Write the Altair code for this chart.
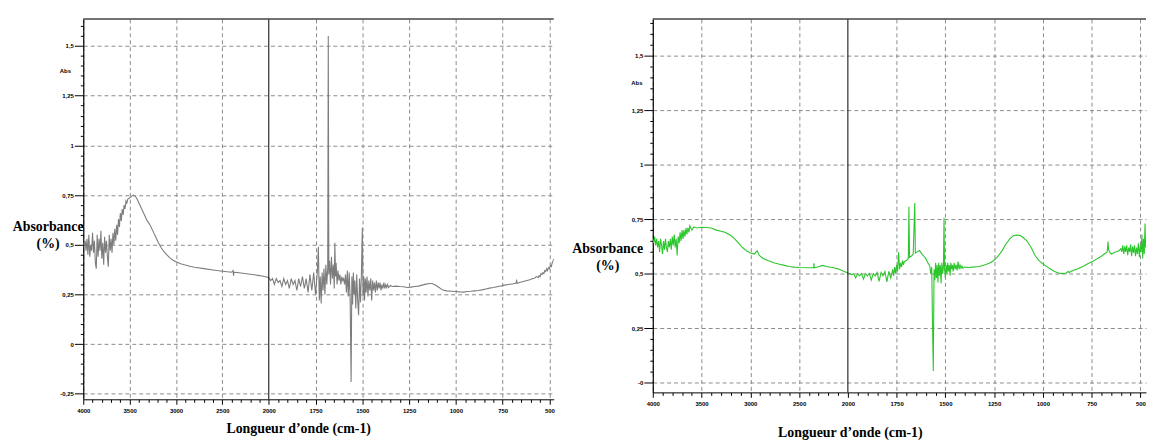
import altair as alt
import pandas as pd

# ---------------- data ----------------
L_WN = [4000, 3990, 3980, 3970, 3960, 3950, 3940, 3930, 3920, 3910,
        3900, 3890, 3880, 3870, 3860, 3850, 3840, 3830, 3820, 3810,
        3800, 3790, 3780, 3770, 3760, 3750, 3740, 3730, 3720, 3710,
        3700, 3690, 3680, 3670, 3660, 3650, 3640, 3630, 3620, 3610,
        3600, 3590, 3580, 3570, 3560, 3550, 3540, 3530, 3520, 3500,
        3480, 3460, 3440, 3420, 3400, 3370, 3340, 3310, 3280, 3250,
        3220, 3190, 3160, 3130, 3100, 3070, 3040, 3000, 2950, 2900,
        2850, 2800, 2700, 2600, 2500, 2400, 2385, 2380, 2375, 2300,
        2200, 2100, 2000,
        1990, 1980, 1970, 1960, 1950, 1940, 1930, 1920, 1910, 1900,
        1890, 1880, 1870, 1860, 1850, 1840, 1830, 1820, 1810, 1800,
        1790, 1780, 1770, 1760, 1750, 1740, 1735, 1730, 1725, 1720,
        1715, 1710, 1705, 1700, 1695, 1690, 1685, 1682, 1679, 1675,
        1670, 1665, 1660, 1655, 1650, 1647, 1643, 1640, 1635, 1630,
        1625, 1620, 1615, 1610, 1605, 1600, 1595, 1590, 1585, 1580,
        1575, 1570, 1565, 1560, 1556, 1552, 1548, 1544, 1540, 1535,
        1530, 1525, 1520, 1515, 1510, 1505, 1500, 1496, 1492, 1488,
        1484, 1480, 1475, 1470, 1465, 1460, 1455, 1450, 1445, 1440,
        1435, 1430, 1425, 1420, 1415, 1410, 1405, 1400, 1395, 1390,
        1385, 1380, 1375, 1370, 1365, 1360, 1350, 1340, 1320, 1300,
        1280, 1260, 1240, 1220, 1200, 1180, 1160, 1140, 1127, 1110,
        1090, 1070, 1050, 1020, 1000, 980, 960, 940, 920, 900,
        880, 860, 840, 820, 800, 780, 760, 740, 720, 700,
        680, 675, 672, 660, 640, 620, 600, 590, 580, 570,
        560, 555, 550, 545, 540, 535, 530, 525, 520, 515,
        510, 505, 500, 495, 490, 485, 480, 477]
L_ABS = [0.51, 0.50, 0.52, 0.47, 0.53, 0.45, 0.55, 0.44, 0.50, 0.47,
         0.56, 0.46, 0.52, 0.41, 0.38, 0.55, 0.44, 0.53, 0.47, 0.57,
         0.43, 0.51, 0.40, 0.54, 0.46, 0.52, 0.44, 0.39, 0.55, 0.47,
         0.53, 0.46, 0.56, 0.50, 0.58, 0.52, 0.60, 0.55, 0.63, 0.59,
         0.66, 0.62, 0.68, 0.65, 0.70, 0.68, 0.72, 0.71, 0.73, 0.735,
         0.745, 0.75, 0.745, 0.73, 0.71, 0.68, 0.65, 0.62, 0.60, 0.57,
         0.54, 0.51, 0.485, 0.465, 0.45, 0.435, 0.425, 0.415, 0.405, 0.398,
         0.392, 0.387, 0.38, 0.373, 0.367, 0.362, 0.37, 0.345, 0.362, 0.358,
         0.352, 0.345, 0.335,
         0.32, 0.33, 0.30, 0.33, 0.31, 0.32, 0.29, 0.33, 0.30, 0.32,
         0.28, 0.33, 0.30, 0.32, 0.27, 0.33, 0.29, 0.34, 0.28, 0.33,
         0.26, 0.35, 0.27, 0.36, 0.25, 0.37, 0.49, 0.22, 0.34, 0.205,
         0.36, 0.27, 0.38, 0.25, 0.40, 0.30, 0.38, 1.55, 0.35, 0.42,
         0.30, 0.44, 0.33, 0.40, 0.28, 0.51, 0.34, 0.41, 0.30, 0.37,
         0.32, 0.35, 0.30, 0.34, 0.32, 0.33, 0.30, 0.35, 0.26, 0.37,
         0.24, 0.36, 0.22, -0.19, 0.34, 0.20, 0.36, 0.25, 0.32, 0.18,
         0.35, 0.22, 0.146, 0.33, 0.21, 0.35, 0.586, 0.24, 0.34, 0.22,
         0.33, 0.26, 0.34, 0.24, 0.32, 0.27, 0.33, 0.22, 0.32, 0.27,
         0.31, 0.26, 0.32, 0.27, 0.31, 0.28, 0.31, 0.27, 0.30, 0.28,
         0.31, 0.28, 0.30, 0.285, 0.30, 0.285, 0.295, 0.29, 0.292, 0.29,
         0.289, 0.285, 0.287, 0.29, 0.292, 0.297, 0.302, 0.305, 0.305, 0.298,
         0.285, 0.272, 0.268, 0.266, 0.265, 0.263, 0.262, 0.265, 0.266, 0.268,
         0.27, 0.273, 0.278, 0.282, 0.285, 0.289, 0.293, 0.297, 0.30, 0.303,
         0.306, 0.32, 0.305, 0.31, 0.315, 0.32, 0.325, 0.33, 0.332, 0.34,
         0.335, 0.345, 0.34, 0.355, 0.35, 0.36, 0.355, 0.37, 0.365, 0.38,
         0.37, 0.385, 0.38, 0.395, 0.39, 0.41, 0.42, 0.43]

R_WN = [4000, 3990, 3980, 3970, 3960, 3950, 3940, 3930, 3920, 3910,
        3900, 3890, 3880, 3870, 3860, 3850, 3840, 3830, 3820, 3810,
        3800, 3790, 3780, 3770, 3760, 3750, 3740, 3730, 3720, 3710,
        3700, 3690, 3680, 3670, 3660, 3650, 3640, 3630, 3620, 3600,
        3580, 3550, 3500, 3450, 3400, 3350, 3300, 3260, 3200, 3160,
        3120, 3080, 3040, 3000, 2960, 2930, 2910, 2870, 2820, 2760,
        2700, 2650, 2600, 2550, 2500, 2400, 2350, 2348, 2345, 2300,
        2260, 2220, 2160, 2100, 2050, 2000,
        1990, 1980, 1970, 1960, 1950, 1940, 1930, 1920, 1910, 1900,
        1890, 1880, 1870, 1860, 1850, 1840, 1830, 1820, 1810, 1800,
        1790, 1780, 1770, 1765, 1760, 1755, 1750, 1745, 1740, 1735,
        1730, 1725, 1720, 1715, 1711, 1700, 1690, 1687, 1684, 1675,
        1665, 1657, 1654, 1645, 1633, 1620, 1610, 1600, 1590, 1580,
        1575, 1570, 1566, 1562, 1558, 1554, 1550, 1546, 1542, 1538,
        1534, 1530, 1526, 1522, 1518, 1514, 1510, 1507, 1504, 1500,
        1496, 1492, 1488, 1484, 1480, 1476, 1472, 1468, 1464, 1460,
        1455, 1450, 1445, 1440, 1435, 1430, 1425, 1420, 1415, 1410,
        1400, 1380, 1360, 1327, 1300, 1275, 1251, 1230, 1209, 1190,
        1170, 1150, 1133, 1115, 1100, 1082, 1060, 1040, 1020, 1000,
        989, 960, 940, 920, 904, 880, 870, 865, 853, 820,
        790, 770, 751, 740, 720, 700, 685, 670, 666, 663,
        655, 649, 630, 610, 600, 595, 590, 585, 580, 575,
        570, 565, 560, 555, 550, 545, 540, 535, 530, 525,
        520, 515, 510, 505, 500, 496, 492, 488, 484, 480,
        476, 473]
R_ABS = [0.655, 0.64, 0.67, 0.63, 0.66, 0.62, 0.65, 0.60, 0.66, 0.63,
         0.59, 0.65, 0.61, 0.66, 0.62, 0.60, 0.65, 0.62, 0.66, 0.61,
         0.67, 0.63, 0.68, 0.62, 0.66, 0.583, 0.67, 0.64, 0.69, 0.65,
         0.70, 0.66, 0.70, 0.67, 0.71, 0.68, 0.71, 0.69, 0.72, 0.70,
         0.715, 0.71, 0.713, 0.712, 0.71, 0.70, 0.695, 0.69, 0.675, 0.66,
         0.64, 0.62, 0.605, 0.595, 0.59, 0.605, 0.585, 0.57, 0.56, 0.55,
         0.543, 0.538, 0.533, 0.53, 0.528, 0.527, 0.527, 0.548, 0.527, 0.532,
         0.538, 0.533, 0.528, 0.522, 0.512, 0.503,
         0.50, 0.495, 0.50, 0.48, 0.50, 0.49, 0.50, 0.475, 0.50, 0.49,
         0.50, 0.47, 0.50, 0.49, 0.505, 0.465, 0.505, 0.49, 0.51, 0.462,
         0.51, 0.48, 0.52, 0.49, 0.53, 0.50, 0.54, 0.51, 0.598, 0.52,
         0.55, 0.53, 0.56, 0.54, 0.555, 0.56, 0.57, 0.807, 0.575, 0.58,
         0.59, 0.825, 0.595, 0.60, 0.606, 0.59, 0.58, 0.568, 0.55, 0.535,
         0.50, 0.53, 0.27, 0.053, 0.52, 0.47, 0.55, 0.48, 0.54, 0.46,
         0.55, 0.49, 0.54, 0.455, 0.55, 0.50, 0.53, 0.757, 0.52, 0.48,
         0.54, 0.50, 0.55, 0.51, 0.54, 0.49, 0.55, 0.52, 0.54, 0.51,
         0.55, 0.52, 0.54, 0.515, 0.555, 0.52, 0.54, 0.525, 0.535, 0.525,
         0.53, 0.528, 0.53, 0.533, 0.54, 0.548, 0.56, 0.58, 0.606, 0.635,
         0.66, 0.675, 0.677, 0.675, 0.665, 0.651, 0.62, 0.583, 0.56, 0.545,
         0.538, 0.52, 0.51, 0.503, 0.50, 0.503, 0.51, 0.505, 0.512, 0.522,
         0.535, 0.545, 0.553, 0.558, 0.57, 0.58, 0.59, 0.60, 0.648, 0.61,
         0.595, 0.59, 0.598, 0.605, 0.615, 0.60, 0.63, 0.59, 0.625, 0.60,
         0.63, 0.585, 0.62, 0.60, 0.635, 0.58, 0.625, 0.595, 0.63, 0.58,
         0.62, 0.59, 0.64, 0.575, 0.63, 0.60, 0.68, 0.57, 0.66, 0.59,
         0.73, 0.62]

X_MAJOR = [4000, 3500, 3000, 2500, 2000, 1750, 1500, 1250, 1000, 750, 500]
X_LABELS = ["4000", "3500", "3000", "2500", "2000", "1750", "1500", "1250",
            "1000", "750", "500"]
L_Y_MAJOR = [-0.25, 0, 0.25, 0.5, 0.75, 1, 1.25, 1.5]
L_Y_LABELS = ["-0,25", "0", "0,25", "0,5", "0,75", "1", "1,25", "1,5"]
R_Y_MAJOR = [0, 0.25, 0.5, 0.75, 1, 1.25, 1.5]
R_Y_LABELS = ["-0", "0,25", "0,5", "0,75", "1", "1,25", "1,5"]
BREAK_WN = [2000]

Y_TITLE = ["Absorbance", "(%)"]
X_TITLE = "Longueur d\u2019onde (cm-1)"
UNIT = "Abs"

# ---------------- helpers ----------------
X_TICKS = list(range(4000, 2000, -100)) + list(range(2000, 499, -50))


def y_ticks(lo, hi):
    out = []
    k = 0
    while True:
        v = round(lo + 0.05 * k, 2)
        if v > hi + 1e-9:
            break
        out.append(v)
        k += 1
    return out


def label_expr(vals, labs):
    s = ""
    for v, l in zip(vals, labs):
        s += f"datum.value == {v} ? '{l}' : "
    return s + "''"


def major_test(vals):
    return "indexof([" + ",".join(str(v) for v in vals) + "], datum.value) >= 0"


TITLE_FONT = "Liberation Serif"
LABEL_FONT = "Liberation Sans"
GRID_COLOR = "#8c8c8c"


def panel(wn, ab, color, width, height, xdom, xrange, ydom, ymajor, ylabels,
          ytick_lo, ytick_hi, ytx, yty, xtx, xty, abs_x, abs_y):
    xtest = major_test(X_MAJOR)
    x_axis = alt.Axis(
        values=X_TICKS,
        labelExpr=label_expr(X_MAJOR, X_LABELS),
        labelFont=LABEL_FONT, labelFontSize=6, labelColor="black",
        labelFontWeight="bold",
        labelPadding=3, labelFlush=False, labelOverlap=False,
        tickColor="black",
        tickSize={"condition": {"test": xtest, "value": 5}, "value": 3},
        domainColor="black", domainWidth=1,
        grid=True, gridColor=GRID_COLOR, gridDash=[4, 3], gridWidth=1,
        gridOpacity={"condition": {"test": xtest + " && datum.value != 2000",
                                   "value": 1}, "value": 0},
        title=X_TITLE, titleFont=TITLE_FONT, titleFontSize=14,
        titleFontWeight="bold", titleColor="black",
        titleX=xtx, titleY=xty, titleAnchor="middle", titleBaseline="alphabetic",
    )
    ytest = major_test(ymajor)
    y_axis = alt.Axis(
        values=y_ticks(ytick_lo, ytick_hi),
        labelExpr=label_expr(ymajor, ylabels),
        labelFont=LABEL_FONT, labelFontSize=6, labelColor="black",
        labelFontWeight="bold",
        labelPadding=1, labelFlush=False, labelOverlap=False,
        tickColor="black",
        tickSize={"condition": {"test": ytest, "value": 9}, "value": 3},
        domainColor="black", domainWidth=1.2,
        grid=True, gridColor=GRID_COLOR, gridDash=[4, 3], gridWidth=1,
        gridOpacity={"condition": {"test": ytest, "value": 1}, "value": 0},
        title=Y_TITLE, titleFont=TITLE_FONT, titleFontSize=14,
        titleFontWeight="bold", titleColor="black", titleAngle=0,
        titleAlign="center", titleBaseline="alphabetic", titleLineHeight=17,
        titleX=ytx, titleY=yty,
    )
    xs = alt.Scale(domain=xdom, range=xrange, nice=False, zero=False)
    ys = alt.Scale(domain=ydom, nice=False, zero=False)
    xenc = alt.X("wn:Q", scale=xs, axis=x_axis)
    yenc = alt.Y("abs:Q", scale=ys, axis=y_axis)

    df = pd.DataFrame({"wn": wn, "abs": ab})
    line = alt.Chart(df).mark_line(color=color, strokeWidth=1.1, clip=True).encode(
        x=xenc, y=yenc, order=alt.Order("idx:Q")
    ).transform_window(idx="row_number()")

    brk = alt.Chart(pd.DataFrame({"wn": BREAK_WN})).mark_rule(
        color="black", strokeWidth=1).encode(x=xenc)

    top = alt.Chart(pd.DataFrame({"k": [0]})).mark_rule(
        color="#444444", strokeWidth=1.5).encode(
        x=alt.value(0), x2=alt.value(width), y=alt.value(0))

    unit = alt.Chart(pd.DataFrame({"abs": [abs_y], "t": [UNIT]})).mark_text(
        font=LABEL_FONT, fontSize=6, fontWeight="bold", color="black",
        align="center", baseline="middle").encode(
        x=alt.value(abs_x), y=yenc, text="t:N")

    return alt.layer(line, brk, top, unit).properties(width=width, height=height)


left = panel(L_WN, L_ABS, "#7d7d7d", 475, 384,
             [4000, 2000, 477], [0, 187.3, 475], [-0.2775, 1.636],
             L_Y_MAJOR, L_Y_LABELS, -0.25, 1.6,
             -36, 214, 217, 34, -18, 1.375)
right = panel(R_WN, R_ABS, "#2cc62c", 498, 377,
              [4000, 2000, 471], [0, 197, 498], [-0.0455, 1.67],
              R_Y_MAJOR, R_Y_LABELS, 0, 1.65,
              -46, 236, 199, 45, -16, 1.374)

chart = alt.hconcat(left, right, spacing=17).properties(
    padding={"left": 4, "top": 8, "right": 0, "bottom": 0}
).configure_view(stroke=None)

chart.save("out.html", embed_options={"renderer": "svg", "actions": False})
